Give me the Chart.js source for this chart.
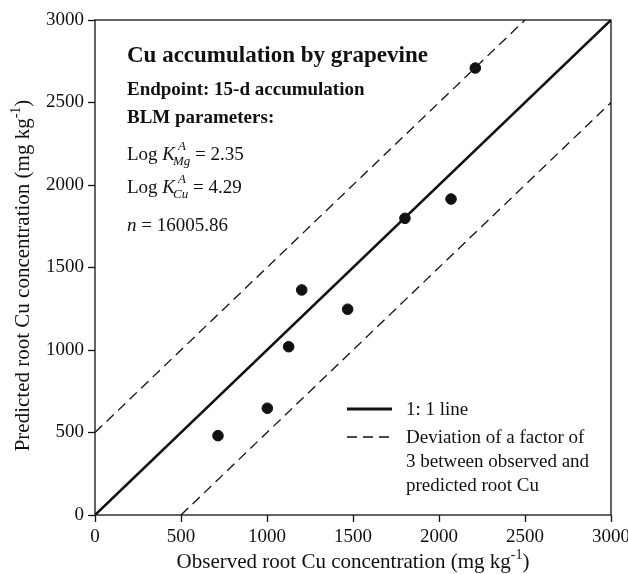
<!DOCTYPE html>
<html>
<head>
<meta charset="utf-8">
<script src="https://cdn.jsdelivr.net/npm/chart.js@4.4.0/dist/chart.umd.min.js"></script>
<style>
  body { margin: 0; background: #fff; }
  #wrap { width: 628px; height: 574px; }
</style>
</head>
<body>
<div id="wrap"><canvas id="chart" width="628" height="574"></canvas></div>
<script>
// observed vs predicted root Cu (mg/kg)
const observed = [715, 1002, 1126, 1202, 1469, 1802, 2070, 2211];
const predicted = [481, 647, 1020, 1364, 1247, 1798, 1915, 2709];

// reference lines
const oneToOneX = [0, 3000];
const oneToOneY = [0, 3000];
const upperX = [0, 2500];
const upperY = [500, 3000];
const lowerX = [500, 3000];
const lowerY = [0, 2500];

const tickValues = [0, 500, 1000, 1500, 2000, 2500, 3000];

const serif = '"Liberation Serif", "Times New Roman", serif';
const ink = "#111";

const toPoints = (xs, ys) => xs.map((x, i) => ({ x: x, y: ys[i] }));

// draws text with a superscript bit, returns the width
function supText(ctx, parts, x, y, size, measureOnly) {
  let w = 0;
  for (const p of parts) {
    const s = p.sup ? Math.round(size * 0.65) : size;
    ctx.font = s + "px " + serif;
    if (!measureOnly) ctx.fillText(p.t, x + w, p.sup ? y - size * 0.42 : y);
    w += ctx.measureText(p.t).width;
  }
  return w;
}

function logK(ctx, x, y, sub, value) {
  ctx.font = "19px " + serif;
  ctx.fillText("Log ", x, y);
  x += ctx.measureText("Log ").width;
  ctx.font = "italic 19px " + serif;
  ctx.fillText("K", x, y);
  x += ctx.measureText("K").width;
  ctx.font = "italic 13px " + serif;
  ctx.fillText("A", x + 3, y - 10);
  ctx.fillText(sub, x - 2, y + 5);
  x += Math.max(ctx.measureText("A").width + 3, ctx.measureText(sub).width - 2);
  ctx.font = "19px " + serif;
  ctx.fillText(" = " + value, x, y);
}

const textPlugin = {
  id: "textPlugin",
  afterDraw(chart) {
    const ctx = chart.ctx;
    const a = chart.chartArea;
    ctx.save();

    // frame
    ctx.strokeStyle = ink;
    ctx.lineWidth = 1.3;
    ctx.strokeRect(a.left, a.top, a.right - a.left, a.bottom - a.top);

    ctx.fillStyle = ink;
    ctx.textBaseline = "alphabetic";
    ctx.textAlign = "left";

    // annotation block
    ctx.font = "bold 23px " + serif;
    ctx.fillText("Cu accumulation by grapevine", 127, 62);
    ctx.font = "bold 19px " + serif;
    ctx.fillText("Endpoint: 15-d accumulation", 127, 95);
    ctx.fillText("BLM parameters:", 127, 123);
    logK(ctx, 127, 160, "Mg", "2.35");
    logK(ctx, 127, 193, "Cu", "4.29");
    ctx.font = "italic 19px " + serif;
    ctx.fillText("n", 127, 231);
    let nx = 127 + ctx.measureText("n").width;
    ctx.font = "19px " + serif;
    ctx.fillText(" = 16005.86", nx, 231);

    // legend
    ctx.lineWidth = 3;
    ctx.beginPath();
    ctx.moveTo(347, 409);
    ctx.lineTo(392, 409);
    ctx.stroke();
    ctx.lineWidth = 1.3;
    ctx.setLineDash([10, 6]);
    ctx.beginPath();
    ctx.moveTo(347, 437);
    ctx.lineTo(392, 437);
    ctx.stroke();
    ctx.setLineDash([]);
    ctx.font = "19px " + serif;
    ctx.fillText("1: 1 line", 406, 415);
    ctx.fillText("Deviation of a factor of", 406, 443);
    ctx.fillText("3 between observed and", 406, 467);
    ctx.fillText("predicted root Cu", 406, 491);

    // axis titles
    const xParts = [{ t: "Observed root Cu concentration (mg kg" }, { t: "-1", sup: true }, { t: ")" }];
    const yParts = [{ t: "Predicted root Cu concentration (mg kg" }, { t: "-1", sup: true }, { t: ")" }];
    const cx = (a.left + a.right) / 2;
    const cy = (a.top + a.bottom) / 2;
    let w = supText(ctx, xParts, 0, 0, 21, true);
    supText(ctx, xParts, cx - w / 2, 568, 21);
    w = supText(ctx, yParts, 0, 0, 21, true);
    ctx.translate(29, cy + 8);
    ctx.rotate(-Math.PI / 2);
    supText(ctx, yParts, -w / 2, 0, 21);

    ctx.restore();
  },
};

const axisCommon = {
  type: "linear",
  min: 0,
  max: 3000,
  border: { display: false },
  grid: {
    display: true,
    drawOnChartArea: false,
    drawTicks: true,
    tickLength: 7,
    tickWidth: 1.3,
    tickColor: ink,
  },
  afterBuildTicks: (scale) => {
    scale.ticks = tickValues.map((v) => ({ value: v }));
  },
};

const tickFont = { family: serif, size: 19 };
const plain = (v) => String(v);

new Chart(document.getElementById("chart"), {
  type: "scatter",
  data: {
    datasets: [
      {
        label: "1: 1 line",
        data: toPoints(oneToOneX, oneToOneY),
        showLine: true,
        borderColor: ink,
        borderWidth: 2.6,
        pointRadius: 0,
      },
      {
        label: "upper",
        data: toPoints(upperX, upperY),
        showLine: true,
        borderColor: ink,
        borderWidth: 1.3,
        borderDash: [10, 6],
        pointRadius: 0,
      },
      {
        label: "lower",
        data: toPoints(lowerX, lowerY),
        showLine: true,
        borderColor: ink,
        borderWidth: 1.3,
        borderDash: [10, 6],
        pointRadius: 0,
      },
      {
        label: "Cu",
        data: toPoints(observed, predicted),
        backgroundColor: ink,
        borderColor: ink,
        pointRadius: 5.3,
        showLine: false,
      },
    ],
  },
  options: {
    responsive: false,
    animation: false,
    events: [],
    layout: { padding: { top: 20, right: 17, left: 0, bottom: 0 } },
    plugins: { legend: { display: false }, tooltip: { enabled: false } },
    scales: {
      x: {
        ...axisCommon,
        position: "bottom",
        ticks: { color: ink, padding: 4, maxRotation: 0, font: tickFont, callback: plain },
        afterFit: (scale) => {
          scale.height = 59;
          scale.paddingLeft = 0;
          scale.paddingRight = 0;
        },
      },
      y: {
        ...axisCommon,
        position: "left",
        ticks: { color: ink, padding: 4, font: tickFont, callback: plain },
        afterFit: (scale) => {
          scale.width = 95;
          scale.paddingTop = 0;
          scale.paddingBottom = 0;
        },
      },
    },
  },
  plugins: [textPlugin],
});
</script>
</body>
</html>
